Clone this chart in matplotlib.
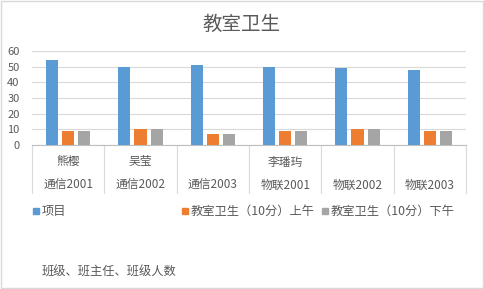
import numpy as np
import matplotlib.pyplot as plt
from matplotlib.patches import Rectangle
import matplotlib.transforms as mtransforms

plt.rcParams['font.family'] = ['Noto Sans CJK SC', 'DejaVu Sans']

classes = ['通信2001', '通信2002', '通信2003', '物联2001', '物联2002', '物联2003']
teachers = ['熊樱', '吴莹', '', '李璠玙', '', '']
items = [54, 50, 51, 50, 49, 48]
morning = [9, 10, 7, 9, 10, 9]
afternoon = [9, 10, 7, 9, 10, 9]
series_names = ['项目', '教室卫生（10分）上午', '教室卫生（10分）下午']
colors = ['#5B9BD5', '#ED7D31', '#A5A5A5']
txt = '#595959'

fig = plt.figure(figsize=(4.84, 2.89), dpi=100)
ax = fig.add_axes([32/484, 1-145/289, (466-32)/484, 94/289])

x = np.arange(len(classes))
w = 0.167
off = 0.222
for i, vals in enumerate([items, morning, afternoon]):
    ax.bar(x + (i-1)*off, vals, w, color=colors[i], zorder=3)

ax.set_xlim(-0.5, len(classes)-0.5)
ax.set_ylim(0, 60)
ax.set_yticks(range(0, 61, 10))
ax.yaxis.grid(True, color='#d9d9d9', lw=0.8, zorder=0)
for s in ['top', 'right', 'left']:
    ax.spines[s].set_visible(False)
ax.spines['bottom'].set_color('#bfbfbf')
ax.tick_params(axis='y', length=0, labelsize=8, labelcolor=txt, pad=9)
ax.set_xticks([])

# two level category axis
trans = mtransforms.blended_transform_factory(ax.transData, ax.transAxes)
for b in np.arange(-0.5, len(classes), 1.0):
    ax.plot([b, b], [0, -48/94], transform=trans, color='#d9d9d9', lw=0.8, clip_on=False)
for i in range(len(classes)):
    ax.text(i, -17/94, teachers[i], transform=trans, ha='center', va='center',
            fontsize=8.5, color=txt)
    ax.text(i, -40/94, classes[i], transform=trans, ha='center', va='center',
            fontsize=8.5, color=txt)

fig.text(241/484, 1-24/289, '教室卫生', ha='center', va='center', fontsize=14,
         color=txt, fontweight='light')

# legend
leg_x = [33, 182, 322]
for i in range(3):
    fig.patches.append(Rectangle((leg_x[i]/484, 1-214/289), 6/484, 6/289,
                                 transform=fig.transFigure, color=colors[i]))
    fig.text((leg_x[i]+9)/484, 1-211/289, series_names[i], ha='left', va='center',
             fontsize=8.8, color=txt)

fig.text(42/484, 1-272/289, '班级、班主任、班级人数', ha='left', va='center',
         fontsize=8.8, color=txt)

fig.patches.append(Rectangle((0.002, 0.003), 0.996, 0.994, transform=fig.transFigure,
                             fill=False, edgecolor='#d9d9d9', lw=1))

fig.savefig('out.png', dpi=100)
